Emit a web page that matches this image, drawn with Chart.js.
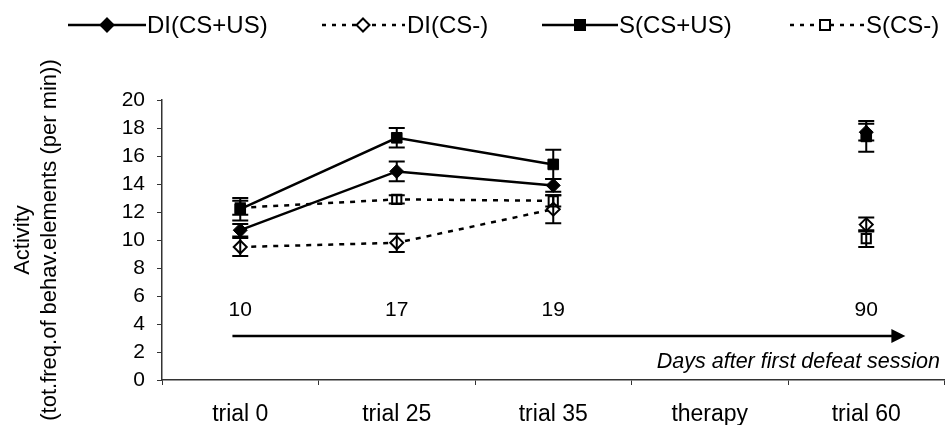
<!DOCTYPE html>
<html>
<head>
<meta charset="utf-8">
<script src="https://cdn.jsdelivr.net/npm/chart.js@4.4.0/dist/chart.umd.min.js"></script>
<style>
  html, body { margin: 0; padding: 0; background: #fff; overflow: hidden; }
  #wrap { width: 953px; height: 425px; position: relative; }
</style>
</head>
<body>
<div id="wrap"><canvas id="c"></canvas></div>
<script>
// Session categories along the x axis
const categories = ['trial 0', 'trial 25', 'trial 35', 'therapy', 'trial 60'];
// Days after the first defeat session, one per session
const dayLabels = ['10', '17', '19', '', '90'];

// Mean activity (tot. freq. of behavioural elements per min) and SEM
const diCsUs      = [10.7, 14.9, 13.9, null, 17.7];
const diCsUsErr   = [0.45, 0.7, 0.45, null, 0.6];
const diCsMinus    = [9.5, 9.8, 12.2, null, 11.1];
const diCsMinusErr = [0.65, 0.65, 1.0, null, 0.5];
const sCsUs       = [12.2, 17.3, 15.4, null, 17.4];
const sCsUsErr    = [0.8, 0.7, 1.05, null, 1.1];
const sCsMinus    = [12.3, 12.9, 12.8, null, 10.1];
const sCsMinusErr = [0.5, 0.3, 0.4, null, 0.6];

// Value axis ticks
const yMin = 0, yMax = 20, yStep = 2;

// Levels (in activity units) for the day-timeline drawn inside the plot
const dayLabelLevel = 5.0;
const arrowLevel = 3.15;
const arrowFrom = -0.05, arrowTo = 4.25;   // category positions
const timelineCaption = 'Days after first defeat session';
const captionLevel = 1.3;

const FONT = '"Liberation Sans", Arial, sans-serif';
const INK = '#000';

const errorSets = [diCsUsErr, diCsMinusErr, sCsUsErr, sCsMinusErr];

// Vertical error bars with caps, drawn over the markers
const errorBars = {
  id: 'errorBars',
  afterDatasetsDraw(chart) {
    const ctx = chart.ctx;
    const y = chart.scales.y;
    ctx.save();
    ctx.strokeStyle = INK;
    ctx.lineWidth = 2;
    ctx.setLineDash([]);
    chart.data.datasets.forEach((ds, di) => {
      const meta = chart.getDatasetMeta(di);
      const errs = errorSets[di];
      ds.data.forEach((v, i) => {
        if (v === null || errs[i] === null) return;
        const px = meta.data[i].x;
        const top = y.getPixelForValue(v + errs[i]);
        const bot = y.getPixelForValue(v - errs[i]);
        const cap = 8;
        ctx.beginPath();
        ctx.moveTo(px, top); ctx.lineTo(px, bot);
        ctx.moveTo(px - cap, top); ctx.lineTo(px + cap, top);
        ctx.moveTo(px - cap, bot); ctx.lineTo(px + cap, bot);
        ctx.stroke();
      });
    });
    ctx.restore();
  }
};

// Day numbers, timeline arrow and caption
const timeline = {
  id: 'timeline',
  beforeDatasetsDraw(chart) {
    const ctx = chart.ctx;
    const xs = chart.scales.x, ys = chart.scales.y;
    ctx.save();
    ctx.fillStyle = INK;
    ctx.strokeStyle = INK;
    ctx.font = '21px ' + FONT;
    ctx.textAlign = 'center';
    ctx.textBaseline = 'middle';
    dayLabels.forEach((d, i) => {
      if (d) ctx.fillText(d, xs.getPixelForValue(i), ys.getPixelForValue(dayLabelLevel));
    });
    const ay = ys.getPixelForValue(arrowLevel);
    const ax0 = xs.getPixelForValue(arrowFrom);
    const ax1 = xs.getPixelForValue(arrowTo);
    const head = 14;
    ctx.lineWidth = 2.5;
    ctx.beginPath();
    ctx.moveTo(ax0, ay); ctx.lineTo(ax1 - head + 1, ay);
    ctx.stroke();
    ctx.beginPath();
    ctx.moveTo(ax1, ay);
    ctx.lineTo(ax1 - head, ay - 7);
    ctx.lineTo(ax1 - head, ay + 7);
    ctx.closePath();
    ctx.fill();
    ctx.font = 'italic 21.5px ' + FONT;
    ctx.textAlign = 'right';
    ctx.fillText(timelineCaption, 940, ys.getPixelForValue(captionLevel));
    ctx.restore();
  }
};

// Line-and-marker legend across the top
const lineLegend = {
  id: 'lineLegend',
  afterDraw(chart) {
    const ctx = chart.ctx;
    const cy = 25;
    const items = [
      { x0: 68,  x1: 146, mx: 107, tx: 147, dash: false, shape: 'diamond', filled: true },
      { x0: 322, x1: 405, mx: 363, tx: 407, dash: true,  shape: 'diamond', filled: false },
      { x0: 542, x1: 618, mx: 580, tx: 619, dash: false, shape: 'square',  filled: true },
      { x0: 790, x1: 864, mx: 825, tx: 866, dash: true,  shape: 'square',  filled: false }
    ];
    ctx.save();
    items.forEach((it, k) => {
      ctx.strokeStyle = INK;
      ctx.lineWidth = 2.5;
      ctx.setLineDash(it.dash ? [4, 6] : []);
      ctx.beginPath();
      ctx.moveTo(it.x0, cy); ctx.lineTo(it.x1, cy);
      ctx.stroke();
      ctx.setLineDash([]);
      ctx.lineWidth = 2;
      ctx.beginPath();
      if (it.shape === 'diamond') {
        const r = 6.5;
        ctx.moveTo(it.mx, cy - r); ctx.lineTo(it.mx + r, cy);
        ctx.lineTo(it.mx, cy + r); ctx.lineTo(it.mx - r, cy);
        ctx.closePath();
      } else {
        const h = 5;
        ctx.rect(it.mx - h, cy - h, 2 * h, 2 * h);
      }
      ctx.fillStyle = it.filled ? INK : '#fff';
      ctx.fill();
      ctx.stroke();
      ctx.fillStyle = INK;
      ctx.font = '24px ' + FONT;
      ctx.textAlign = 'left';
      ctx.textBaseline = 'middle';
      ctx.fillText(chart.data.datasets[k].label, it.tx, cy + 1);
    });
    ctx.restore();
  }
};

new Chart(document.getElementById('c'), {
  type: 'line',
  data: {
    labels: categories,
    datasets: [
      {
        label: 'DI(CS+US)', data: diCsUs,
        borderColor: INK, backgroundColor: INK, borderWidth: 2.5,
        pointStyle: 'rectRot', pointRadius: 7, pointBorderWidth: 1,
        pointBackgroundColor: INK, pointBorderColor: INK
      },
      {
        label: 'DI(CS-)', data: diCsMinus,
        borderColor: INK, borderWidth: 2.5, borderDash: [5, 6],
        pointStyle: 'rectRot', pointRadius: 6.5, pointBorderWidth: 2,
        pointBackgroundColor: '#fff', pointBorderColor: INK
      },
      {
        label: 'S(CS+US)', data: sCsUs,
        borderColor: INK, backgroundColor: INK, borderWidth: 2.5,
        pointStyle: 'rect', pointRadius: 7.5, pointBorderWidth: 1,
        pointBackgroundColor: INK, pointBorderColor: INK
      },
      {
        label: 'S(CS-)', data: sCsMinus,
        borderColor: INK, borderWidth: 2.5, borderDash: [5, 6],
        pointStyle: 'rect', pointRadius: 6.5, pointBorderWidth: 2,
        pointBackgroundColor: '#fff', pointBorderColor: INK
      }
    ]
  },
  options: {
    responsive: true,
    maintainAspectRatio: false,
    animation: false,
    events: [],
    spanGaps: false,
    layout: { padding: { top: 100, right: 0, bottom: 0, left: 0 } },
    plugins: { legend: { display: false }, tooltip: { enabled: false } },
    scales: {
      x: {
        type: 'category',
        offset: true,
        grid: { offset: true, drawOnChartArea: false, drawTicks: true, tickLength: 5, color: '#333' },
        border: { display: true, color: '#333', width: 1.5 },
        ticks: { color: INK, font: { family: FONT, size: 23 }, padding: 16, maxRotation: 0, autoSkip: false },
        afterFit(scale) { scale.height = 45; }
      },
      y: {
        min: yMin, max: yMax,
        grid: { drawOnChartArea: false, drawTicks: true, tickLength: 5, color: '#333' },
        border: { display: true, color: '#333', width: 1.5 },
        ticks: { stepSize: yStep, autoSkip: false, color: INK, font: { family: FONT, size: 21 }, padding: 12 },
        title: {
          display: true,
          text: ['Activity', '(tot.freq.of behav.elements (per min))'],
          color: INK,
          font: { family: FONT, size: 22, lineHeight: 1.25 },
          padding: { top: 9, bottom: 0 }
        },
        afterFit(scale) { scale.width = 162; }
      }
    }
  },
  plugins: [timeline, errorBars, lineLegend]
});
</script>
</body>
</html>
